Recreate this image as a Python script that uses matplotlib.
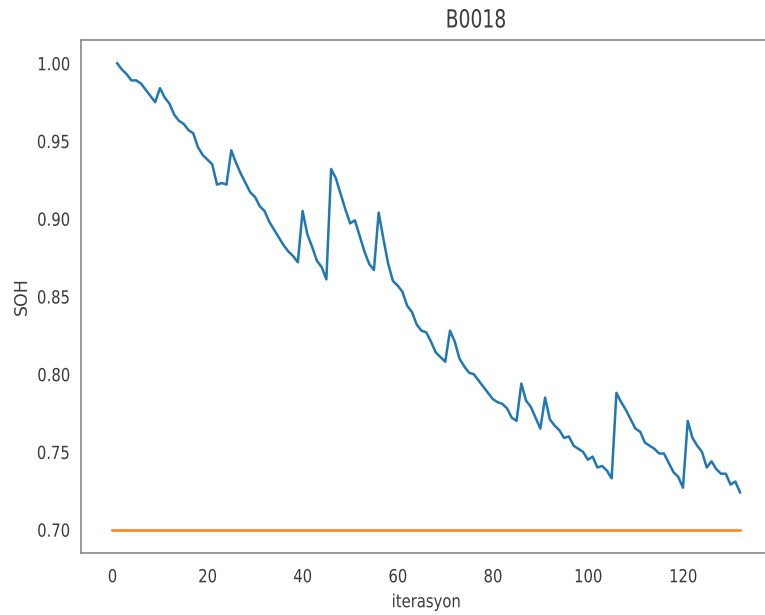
import matplotlib
matplotlib.use("Agg")
import matplotlib.pyplot as plt
from matplotlib.patheffects import AbstractPathEffect
from matplotlib.transforms import Affine2D

# SOH per cycle for battery B0018
cycles = list(range(1, 133))
soh = [
    1.000, 0.996, 0.993, 0.989, 0.989, 0.987, 0.983, 0.979, 0.975, 0.984,
    0.978, 0.974, 0.967, 0.963, 0.961, 0.957, 0.955, 0.946, 0.941, 0.938,
    0.935, 0.922, 0.923, 0.922, 0.944, 0.936, 0.929, 0.923, 0.917, 0.914,
    0.908, 0.905, 0.898, 0.893, 0.888, 0.883, 0.879, 0.876, 0.872, 0.905,
    0.890, 0.882, 0.873, 0.869, 0.861, 0.932, 0.926, 0.916, 0.906, 0.897,
    0.899, 0.889, 0.879, 0.871, 0.867, 0.904, 0.887, 0.871, 0.860, 0.857,
    0.853, 0.844, 0.840, 0.832, 0.828, 0.827, 0.821, 0.814, 0.811, 0.808,
    0.828, 0.821, 0.810, 0.805, 0.801, 0.800, 0.796, 0.792, 0.788, 0.784,
    0.782, 0.781, 0.778, 0.772, 0.770, 0.794, 0.783, 0.779, 0.772, 0.765,
    0.785, 0.771, 0.767, 0.764, 0.759, 0.760, 0.754, 0.752, 0.750, 0.745,
    0.747, 0.740, 0.741, 0.738, 0.733, 0.788, 0.782, 0.777, 0.771, 0.765,
    0.763, 0.756, 0.754, 0.752, 0.749, 0.749, 0.743, 0.737, 0.734, 0.727,
    0.770, 0.759, 0.754, 0.750, 0.740, 0.744, 0.739, 0.736, 0.736, 0.729,
    0.731, 0.724,
]

# end-of-life threshold line
threshold_x = [0, 132]
threshold_y = [0.70, 0.70]

yticks = [0.70, 0.75, 0.80, 0.85, 0.90, 0.95, 1.00]
xticks = [0, 20, 40, 60, 80, 100, 120]

TEXT_COLOR = "#3a3a3a"


class Squeeze(AbstractPathEffect):
    """Draw text narrower than the font, like the squashed reference image."""

    def __init__(self, sx=0.82, anchor="center"):
        super().__init__()
        self.sx = sx
        self.anchor = anchor

    def draw_path(self, renderer, gc, tpath, affine, rgbFace=None):
        ext = tpath.get_extents()
        x0 = ext.x1 if self.anchor == "right" else (ext.x0 + ext.x1) / 2
        squeeze = Affine2D().translate(-x0, 0).scale(self.sx, 1).translate(x0, 0)
        renderer.draw_path(gc, tpath, squeeze + affine, rgbFace)


plt.rcParams["font.family"] = ["DejaVu Sans"]

fig = plt.figure(figsize=(7.65, 6.15), dpi=100)
ax = fig.add_axes([0.1059, 0.1008, 0.9025, 0.8342])

ax.plot(cycles, soh, color="#1f77b4", linewidth=1.8)
ax.plot(threshold_x, threshold_y, color="#ff7f0e", linewidth=1.8)

ax.set_yticks(yticks)
ax.set_yticklabels([f"{v:.2f}" for v in yticks])
ax.set_xticks(xticks)
ax.tick_params(length=0, labelsize=13, colors=TEXT_COLOR)
ax.tick_params(axis="x", pad=11)
ax.tick_params(axis="y", pad=8)

for side in ["left", "top", "bottom"]:
    ax.spines[side].set_color("#888888")
    ax.spines[side].set_linewidth(1.2)
ax.spines["right"].set_visible(False)

ax.set_xlabel("iterasyon", fontsize=13, color=TEXT_COLOR, labelpad=5)
ax.set_ylabel("SOH", fontsize=12.5, color=TEXT_COLOR, labelpad=-1)
ax.set_title("B0018", fontsize=18, color=TEXT_COLOR, x=0.572, pad=9)

for lab in ax.get_xticklabels():
    lab.set_path_effects([Squeeze()])
for lab in ax.get_yticklabels():
    lab.set_path_effects([Squeeze(anchor="right")])
ax.xaxis.label.set_path_effects([Squeeze()])
ax.title.set_path_effects([Squeeze(sx=0.75)])

fig.savefig("out.png", dpi=100)
plt.close(fig)
